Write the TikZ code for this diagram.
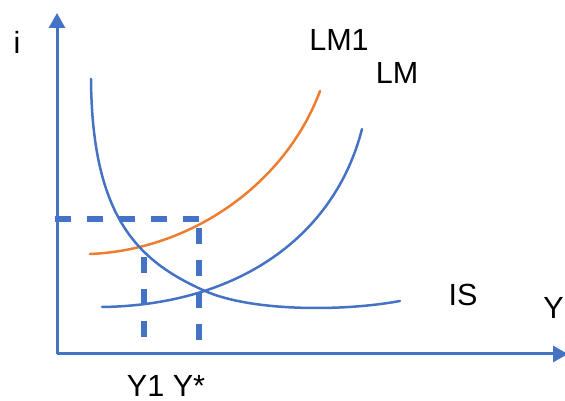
\documentclass[tikz,border=0pt]{standalone}
\usepackage{fontspec}
\setmainfont{Liberation Sans}
\usetikzlibrary{arrows.meta}
\definecolor{ablue}{HTML}{4472C4}
\definecolor{aorange}{HTML}{ED7D31}
\begin{document}
\begin{tikzpicture}[x=0.02cm,y=-0.02cm,
  axis/.style={draw=ablue,line width=0.06cm,-{Triangle[length=0.3cm,width=0.32cm]}},
  curve/.style={line width=0.05cm,line cap=round},
  guide/.style={draw=ablue,line width=0.12cm,dash pattern=on 0.32cm off 0.32cm},
  lbl/.style={font=\fontsize{17.4}{20}\selectfont,inner sep=0pt}]
\useasboundingbox (0,0) rectangle (565,401);
\coordinate (O) at (57,354);
\coordinate (Ytop) at (57,13);
\coordinate (Xend) at (568,354);
% dashed guides
\coordinate (h0) at (55,219);
\coordinate (h1) at (199,219);
\coordinate (v1t) at (199,228);
\coordinate (v1b) at (199,340);
\coordinate (v0t) at (144,257);
\coordinate (v0b) at (144,338);
\draw[guide] (h0) -- (h1);
\draw[guide] (v1t) -- (v1b);
\draw[guide] (v0t) -- (v0b);
\draw[axis] (O) -- (Ytop);
\draw[axis] (O) -- (Xend);
\node[lbl] (i) at (17,42) {i};
\node[lbl,anchor=east] (Y) at (564,308) {Y};
\node[lbl] (lm1) at (339,40) {LM1};
\node[lbl] (lm) at (397,73) {LM};
\node[lbl] (is) at (463,295) {IS};
\node[lbl] (y1) at (166,386) {Y1 Y*};
% curves
\coordinate (lm1s) at (90,254);
\coordinate (lm1e) at (320,91);
\coordinate (lms) at (102,307);
\coordinate (lme) at (362,129);
\coordinate (iss) at (91,79);
\coordinate (eq) at (205,291);
\coordinate (ise) at (400,301);
\draw[curve,aorange] (lm1s) .. controls (190,250) and (285,185) .. (lm1e);
\draw[curve,ablue] (lms) .. controls (240,305) and (335,235) .. (lme);
\draw[curve,ablue] (iss) .. controls (92,220) and (140,262) .. (eq)
  .. controls (250,311) and (340,312) .. (ise);
\end{tikzpicture}
\end{document}
